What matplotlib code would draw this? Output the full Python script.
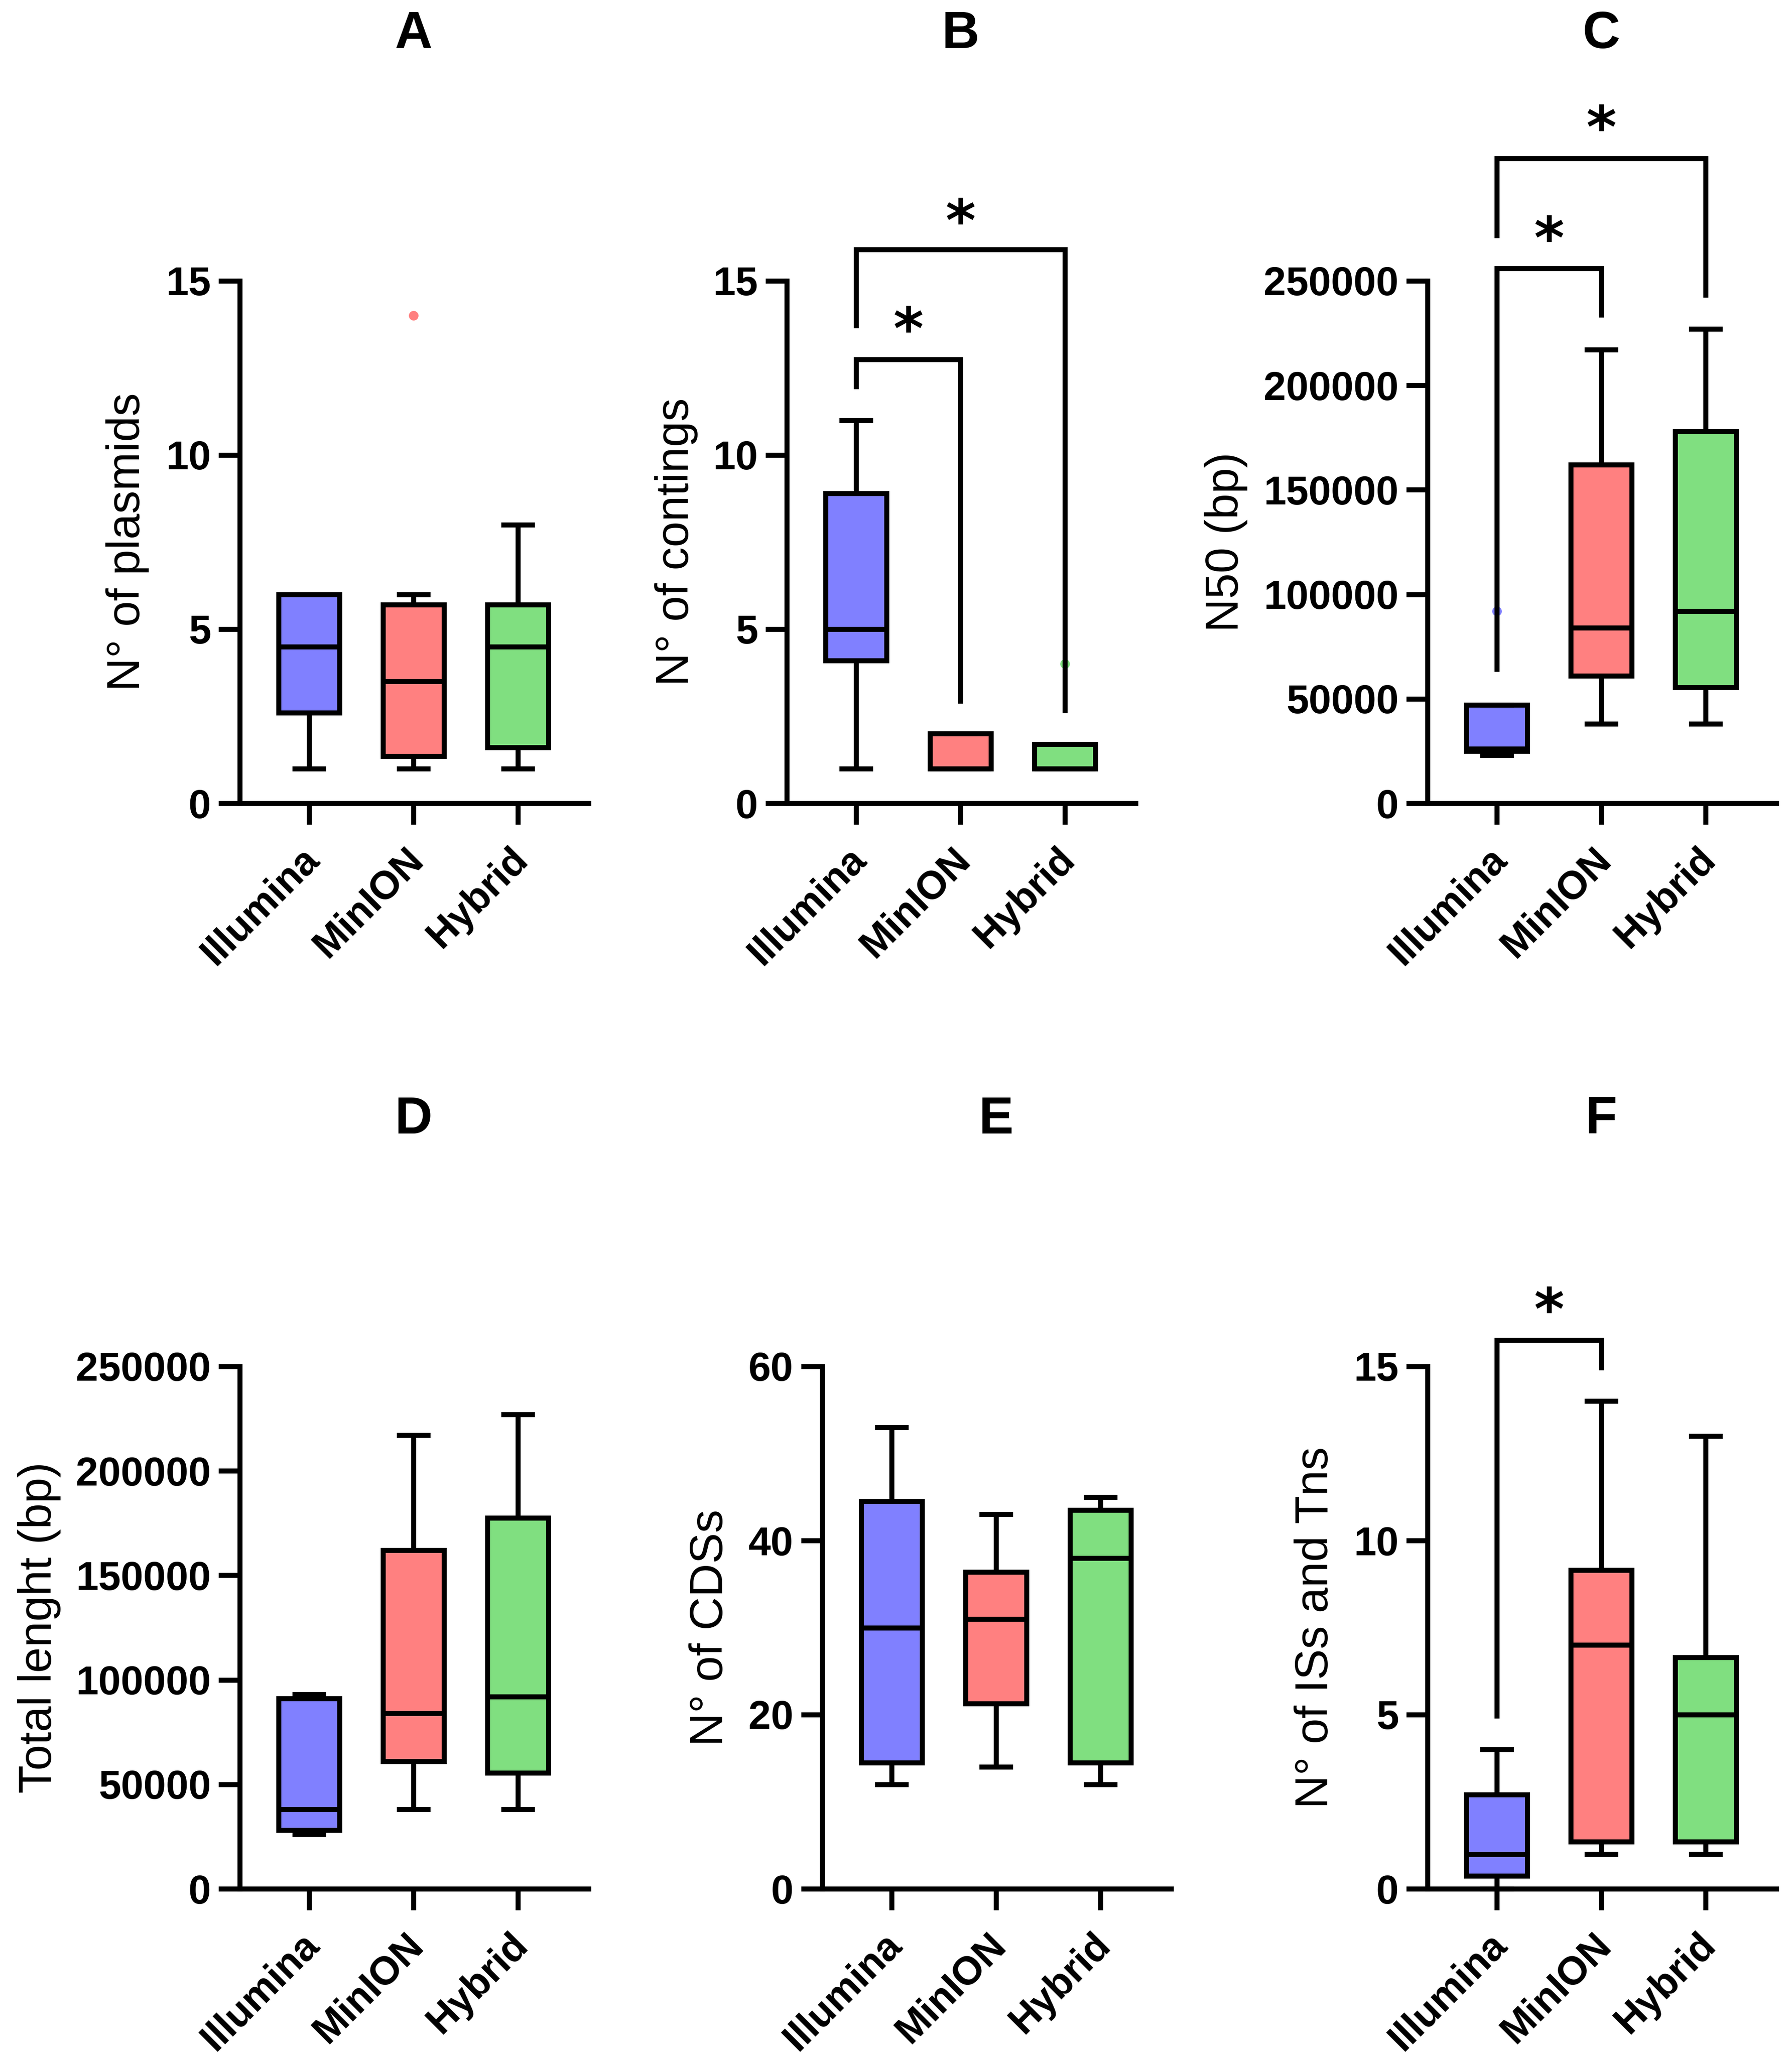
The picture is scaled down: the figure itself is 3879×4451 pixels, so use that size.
import matplotlib
matplotlib.use('Agg')
import matplotlib.pyplot as plt
from matplotlib import transforms

plt.rcParams['font.family'] = ['Liberation Sans', 'DejaVu Sans']

# ---------------- data ----------------
groups = ['Illumina', 'MinION', 'Hybrid']
colors = ['#8080FF', '#FF8080', '#80DF80']

# box statistics per group: [whislo, q1, median, q3, whishi]
plasmids = [[1, 2.6, 4.5, 6.0, 6.0], [1, 1.35, 3.5, 5.7, 6.0], [1, 1.6, 4.5, 5.7, 8.0]]
plasmids_out = [[], [14], []]

contigs = [[1, 4.1, 5.0, 8.9, 11.0], [1, 1.0, 1.0, 2.0, 2.0], [1, 1.0, 1.0, 1.7, 1.7]]
contigs_out = [[], [], [4]]

n50 = [[23000, 25000, 26000, 47000, 47000],
       [38000, 61000, 84000, 162000, 217000],
       [38000, 55500, 92000, 178000, 227000]]
n50_out = [[92000], [], []]

total_len = [[26000, 28000, 38000, 91000, 93000],
             [38000, 61000, 84000, 162000, 217000],
             [38000, 55500, 92000, 177500, 227000]]
total_len_out = [[], [], []]

cds = [[12, 14.5, 30, 44.5, 53], [14, 21.25, 31, 36.4, 43], [12, 14.5, 38, 43.5, 45]]
cds_out = [[], [], []]

is_tn = [[0, 0.37, 1.0, 2.7, 4.0], [1, 1.35, 7.0, 9.15, 14.0], [1, 1.35, 5.0, 6.65, 13.0]]
is_tn_out = [[], [], []]

titles = ['A', 'B', 'C', 'D', 'E', 'F']
ylabels = ['N° of plasmids', 'N° of contings', 'N50 (bp)',
           'Total lenght (bp)', 'N° of CDSs', 'N° of ISs and Tns']
yticks = [[0, 5, 10, 15], [0, 5, 10, 15],
          [0, 50000, 100000, 150000, 200000, 250000],
          [0, 50000, 100000, 150000, 200000, 250000],
          [0, 20, 40, 60], [0, 5, 10, 15]]

# significance brackets: (group1, group2, left leg bottom, top, right leg bottom, star y)
brackets_B = [(0, 1, 11.9, 12.75, 2.87, 13.9), (0, 2, 13.65, 15.9, 2.6, 17.0)]
brackets_C = [(0, 1, 63000, 256000, 232500, 275000), (0, 2, 270500, 308500, 242000, 328000)]
brackets_F = [(0, 1, 4.9, 15.75, 14.9, 16.9)]

panels = [
    (plasmids, plasmids_out, []),
    (contigs, contigs_out, brackets_B),
    (n50, n50_out, brackets_C),
    (total_len, total_len_out, []),
    (cds, cds_out, []),
    (is_tn, is_tn_out, brackets_F),
]

# ---------------- layout (figure pixels) ----------------
W, H = 3879, 4451
DPI = 300
fig = plt.figure(figsize=(W / DPI, H / DPI), dpi=DPI)

ax_left = [519, 1703, 3090, 519, 1780, 3090]
ax_bottom_px = [1739, 1739, 1739, 4089, 4089, 4089]
ax_w, ax_h = 755, 1131
ylabel_x = [-0.322, -0.317, -0.577, -0.575, -0.32, -0.32]

LW = 2.6
STAR_FS = 30
label_shift = transforms.ScaledTranslation(9 / DPI, 0, fig.dpi_scale_trans)

for i, (stats_vals, outs, brackets) in enumerate(panels):
    rect = [ax_left[i] / W, (H - ax_bottom_px[i]) / H, ax_w / W, ax_h / H]
    ax = fig.add_axes(rect)
    stats = []
    for v, o, g in zip(stats_vals, outs, groups):
        stats.append(dict(whislo=v[0], q1=v[1], med=v[2], q3=v[3], whishi=v[4],
                          fliers=o, label=g))
    bp = ax.bxp(stats, positions=[0, 1, 2], widths=0.58, capwidths=0.27,
                patch_artist=True, showfliers=True,
                boxprops=dict(linewidth=LW, edgecolor='black'),
                medianprops=dict(linewidth=LW, color='black', solid_capstyle='butt'),
                whiskerprops=dict(linewidth=LW, color='black', solid_capstyle='butt'),
                capprops=dict(linewidth=LW, color='black'),
                flierprops=dict(marker='o', markersize=5, markeredgecolor='none'))
    for j, patch in enumerate(bp['boxes']):
        patch.set_facecolor(colors[j])
        patch.set_clip_on(False)
    for j, fl in enumerate(bp['fliers']):
        fl.set_markerfacecolor(colors[j])
        fl.set_clip_on(False)
    for key in ('medians', 'whiskers', 'caps'):
        for ln in bp[key]:
            ln.set_clip_on(False)

    ymax = yticks[i][-1]
    ax.set_ylim(0, ymax)
    ax.set_xlim(-150 / 226, (ax_w - 150) / 226)
    ax.set_yticks(yticks[i])
    ax.set_yticklabels([str(t) for t in yticks[i]], fontsize=21, fontweight='bold')
    ax.set_xticks([0, 1, 2])
    ax.set_xticklabels(groups, rotation=45, ha='right', va='center',
                       rotation_mode='anchor', fontsize=20.5, fontweight='bold')
    ax.tick_params(axis='both', length=11, width=LW, color='black')
    ax.tick_params(axis='y', pad=4)
    ax.tick_params(axis='x', pad=15.4)
    for lab in ax.get_xticklabels():
        lab.set_transform(lab.get_transform() + label_shift)
    for s in ('top', 'right'):
        ax.spines[s].set_visible(False)
    for s in ('left', 'bottom'):
        ax.spines[s].set_linewidth(LW)
        ax.spines[s].set_capstyle('projecting')

    ax.set_ylabel(ylabels[i], fontsize=24, va='center')
    ax.yaxis.set_label_coords(ylabel_x[i], 0.5)

    tr = transforms.blended_transform_factory(ax.transData, ax.transAxes)
    ax.text(1, 1.446, titles[i], transform=tr, ha='center', va='baseline',
            fontsize=27, fontweight='bold')

    star_tr = transforms.offset_copy(ax.transData, fig=fig, x=0, y=-7,
                                     units='points')
    for (g1, g2, lb, top, rb, sy) in brackets:
        ax.plot([g1, g1, g2, g2], [lb, top, top, rb], color='black', lw=LW,
                clip_on=False, solid_joinstyle='miter', solid_capstyle='butt')
        ax.text((g1 + g2) / 2, sy, '*', transform=star_tr, ha='center', va='center',
                fontsize=STAR_FS, fontweight='bold', family='DejaVu Sans', clip_on=False)

fig.savefig('out.png', dpi=DPI, facecolor='white')
